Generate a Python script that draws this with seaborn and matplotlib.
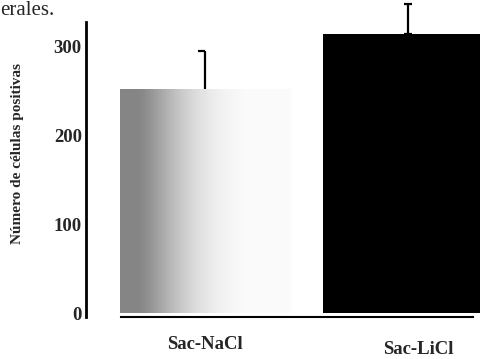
import numpy as np
import pandas as pd
import matplotlib
matplotlib.use("Agg")
import matplotlib.pyplot as plt
import matplotlib.transforms as mtransforms
import seaborn as sns

# ---- data ----
categories = ["Sac-NaCl", "Sac-LiCl"]
values = [252, 314]
errors = [43, 33]
yticks = [0, 100, 200, 300]
ylabel = "Número de células positivas"
header_fragment = "erales."

df = pd.DataFrame({"grupo": categories, "valor": values})

sns.set_theme(style="white")
plt.rcParams["font.family"] = ["Liberation Serif", "DejaVu Serif"]

fig = plt.figure(figsize=(4.81, 3.59), dpi=100)
ax = fig.add_axes([86 / 481, 42 / 359, (481 - 86) / 481, (317 - 22) / 359])

sns.barplot(data=df, x="grupo", y="valor", order=categories,
            palette=["white", "black"], hue="grupo", legend=False,
            width=0.84, saturation=1, ax=ax, errorbar=None,
            edgecolor="none", linewidth=0)

# stipple-like gradient for first bar
bar1 = ax.patches[0]
x0, w = bar1.get_x(), bar1.get_width()
h = bar1.get_height()
nx = 300
xs = np.linspace(0, 1, nx)
alpha = np.clip(0.48 * np.exp(-((np.maximum(xs - 0.1, 0)) / 0.3) ** 1.5), 0.02, 0.48)
img = np.zeros((2, nx, 4))
img[..., 3] = alpha
im = ax.imshow(img, extent=[x0, x0 + w, 0, h], aspect="auto", zorder=2,
               interpolation="bilinear")
im.set_clip_path(bar1)

# error bars (drawn upward only)
ax.errorbar([0], [values[0]], yerr=[[0], [errors[0]]], fmt="none",
            ecolor="black", elinewidth=1.6, capsize=0, zorder=3, clip_on=False)
ax.plot([-0.035, 0], [values[0] + errors[0]] * 2, color="black", lw=1.6,
        zorder=3, clip_on=False, solid_capstyle="butt")
ax.errorbar([1], [values[1]], yerr=[[0], [errors[1]]], fmt="none",
            ecolor="black", elinewidth=1.6, capsize=3, capthick=1.6,
            zorder=3, clip_on=False)

ax.set_xlim(-0.586, 1.36)
ax.set_ylim(-4, 327)
ax.set_yticks(yticks)
ax.set_yticklabels([str(t) for t in yticks], fontsize=13.5, fontweight="bold")
ax.tick_params(axis="y", length=0, pad=3)
ax.tick_params(axis="x", length=0, pad=14)
for lbl in ax.get_xticklabels():
    lbl.set_fontsize(13.5)
    lbl.set_fontweight("bold")
lbls = ax.get_xticklabels()
lbls[1].set_transform(lbls[1].get_transform() +
                      mtransforms.ScaledTranslation(10 / 100, -5 / 100, fig.dpi_scale_trans))

ax.set_xlabel("")
ax.set_ylabel("")
fig.text(18 / 481, 1 - 153 / 359, ylabel, rotation=90, ha="center", va="center",
         fontsize=11, fontweight="bold")
fig.text(0.0, 1 - 15 / 359, header_fragment, ha="left", va="baseline", fontsize=15)

for s in ["top", "right"]:
    ax.spines[s].set_visible(False)
ax.spines["left"].set_color("black")
ax.spines["left"].set_linewidth(2)
ax.spines["bottom"].set_color("black")
ax.spines["bottom"].set_linewidth(1.5)
ax.spines["bottom"].set_bounds(-0.414, 1.32)
ax.grid(False)

fig.savefig("out.png", dpi=100)
